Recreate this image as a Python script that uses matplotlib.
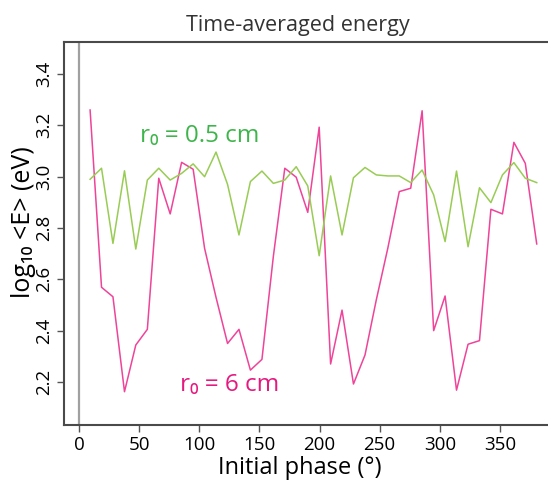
import matplotlib
matplotlib.use("Agg")
import matplotlib.pyplot as plt

plt.rcParams['font.family'] = ['Open Sans', 'DejaVu Sans']

# initial phase (deg) of each run
phase = [9.2, 18.7, 28.2, 37.8, 47.2, 56.8, 66.3, 75.8, 85.3, 94.9,
         104.4, 113.9, 123.5, 133.0, 142.5, 152.1, 161.6, 171.1, 180.6, 190.2,
         199.7, 209.2, 218.7, 228.2, 237.8, 247.2, 256.8, 266.3, 275.8, 285.3,
         294.9, 304.4, 313.9, 323.5, 333.0, 342.5, 352.1, 361.6, 371.1, 380.6]

# log10 <E> for r0 = 6 cm
e_6cm = [3.26, 2.569, 2.532, 2.162, 2.344, 2.405, 2.994, 2.855, 3.056, 3.029,
         2.721, 2.53, 2.35, 2.405, 2.246, 2.288, 2.69, 3.033, 2.998, 2.861,
         3.193, 2.27, 2.48, 2.192, 2.305, 2.52, 2.722, 2.942, 2.955, 3.257,
         2.40, 2.535, 2.168, 2.347, 2.361, 2.873, 2.855, 3.134, 3.052, 2.738]

# log10 <E> for r0 = 0.5 cm
e_05cm = [2.990, 3.033, 2.740, 3.023, 2.718, 2.987, 3.033, 2.987, 3.013, 3.05,
          3.0, 3.096, 2.970, 2.773, 2.981, 3.022, 2.974, 2.987, 3.039, 2.964,
          2.692, 3.003, 2.773, 2.996, 3.036, 3.007, 3.003, 3.003, 2.977, 3.026,
          2.929, 2.747, 3.022, 2.727, 2.957, 2.899, 3.007, 3.055, 2.994, 2.977]

xticks = [0, 50, 100, 150, 200, 250, 300, 350]
yticks = [2.2, 2.4, 2.6, 2.8, 3.0, 3.2, 3.4]

fig = plt.figure(figsize=(5.48, 4.83), dpi=100)
ax = fig.add_axes([0.1168, 0.120, 0.885, 0.793])

ax.axvline(0, color="#a0a0a0", lw=1.6, zorder=1)
ax.plot(phase, e_6cm, color="#ee4499", lw=1.1, zorder=2)
ax.plot(phase, e_05cm, color="#99cc55", lw=1.1, zorder=3)

ax.set_xlim(-12.5, 390.8)
ax.set_ylim(2.032, 3.525)
ax.set_xticks(xticks)
ax.set_yticks(yticks)
ax.set_yticklabels([f"{v:.1f}" for v in yticks], rotation=90, va="center")
ax.tick_params(labelsize=13.5, length=5, width=1, color="#555555", pad=3)

for side in ["left", "bottom", "top"]:
    ax.spines[side].set_color("#4a4a4a")
    ax.spines[side].set_linewidth(1.5)
ax.spines["right"].set_visible(False)

ax.text(100, 3.16, "r\u2080 = 0.5 cm", color="#3db54a", fontsize=17.5, ha="center", va="center")
ax.text(125, 2.19, "r\u2080 = 6 cm", color="#e5197f", fontsize=17.5, ha="center", va="center")

fig.text(298 / 548, 1 - 25 / 483, "Time-averaged energy", fontsize=15.5, color="#333333",
         ha="center", va="center")
fig.text(300 / 548, 1 - 468 / 483, "Initial phase (\u00b0)", fontsize=17,
         ha="center", va="center")
fig.text(24 / 548, 1 - 222 / 483, "log\u2081\u2080 <E> (eV)", fontsize=18,
         rotation=90, ha="center", va="center")

fig.savefig("out.png", dpi=100)
